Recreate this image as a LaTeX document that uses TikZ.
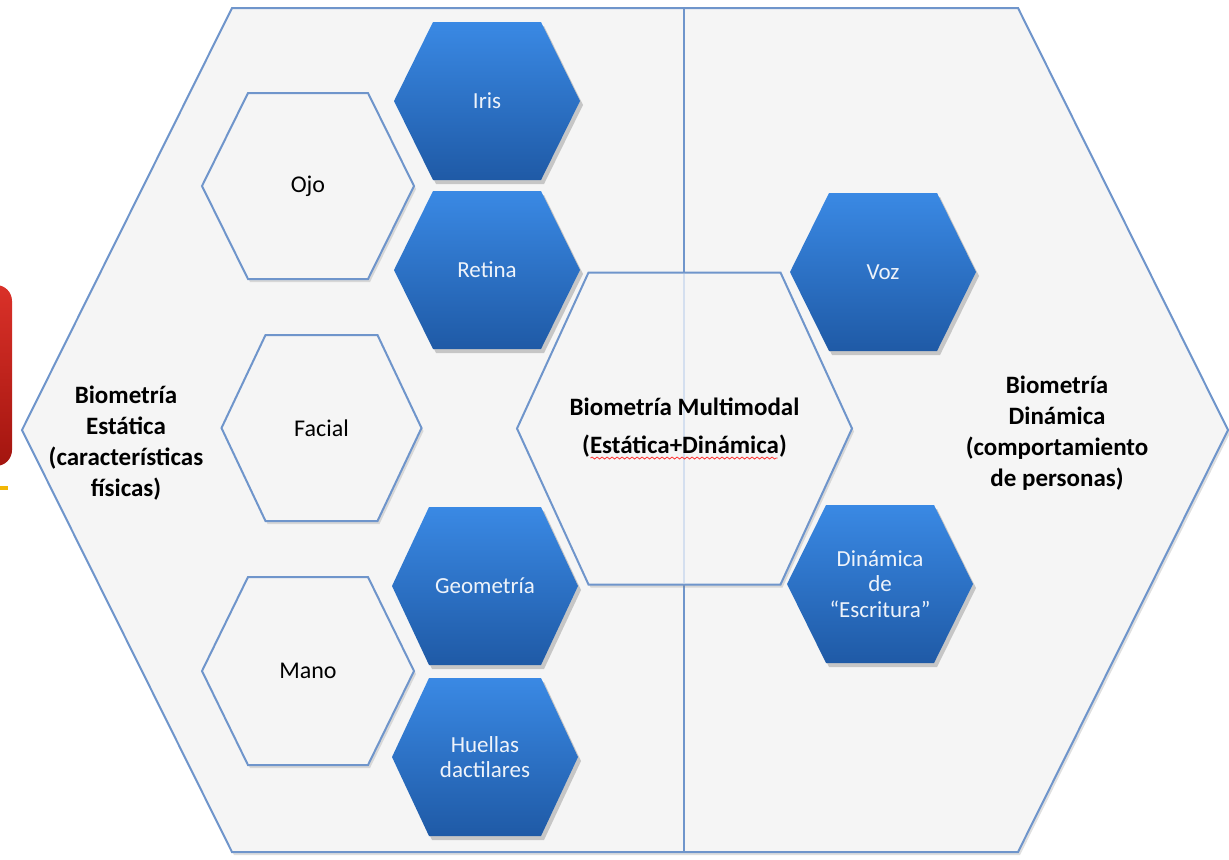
\documentclass[tikz,border=0pt]{standalone}
\usepackage{fontspec}
\setmainfont{Carlito}
\usetikzlibrary{shadows, calc, decorations.pathmorphing}
\definecolor{hexLine}{HTML}{6F95CB}
\definecolor{hexFill}{HTML}{F5F5F5}
\definecolor{hexTop}{HTML}{3A89E4}
\definecolor{hexBot}{HTML}{1F5AA6}
\definecolor{hexText}{HTML}{EEF3FA}
\definecolor{redTop}{HTML}{DA3129}
\definecolor{redBot}{HTML}{A3150F}
\definecolor{tabYellow}{HTML}{F2B705}
% hexagon: style, centre, half width, half top edge, half height
\newcommand{\hexpath}[5]{%
	\path[#1, shift={(#2)}] (-#3,0) -- (-#4,-#5) -- (#4,-#5) -- (#3,0) -- (#4,#5) -- (-#4,#5) -- cycle;}
\tikzset{
	outerhex/.style={fill=hexFill, draw=hexLine, line width=1pt, drop shadow={shadow xshift=1pt, shadow yshift=-1.5pt, opacity=0.25}},
	whitehex/.style={fill=hexFill, draw=hexLine, line width=1pt, drop shadow={shadow xshift=1pt, shadow yshift=-1.5pt, opacity=0.25}},
	bluehex/.style={top color=hexTop, bottom color=hexBot, drop shadow={shadow xshift=1.5pt, shadow yshift=-2pt, opacity=0.4}},
	item/.style={font=\fontsize{11.5}{12.8}\selectfont, text=hexText, align=center},
	darkitem/.style={font=\fontsize{12}{14}\selectfont, text=black, align=center},
	grouptext/.style={font=\bfseries\fontsize{12.5}{15.5}\selectfont, text=black, align=center},
	spell/.style={draw=red!80, line width=0.4pt, decorate, decoration={snake, amplitude=0.5pt, segment length=2.5pt}}
}
\begin{document}
\begin{tikzpicture}[x=0.5pt, y=-0.5pt]
	\useasboundingbox (0,0) rectangle (1229,859);
	
	% cut-off tab at the left
	\shade[top color=redTop, bottom color=redBot, rounded corners=8pt] (-40,285) rectangle (12,466);
	\draw[tabYellow, line width=2pt] (-5,488) -- (8,488);
	
	% big hexagon split in two halves
	\hexpath{outerhex}{625,430}{603}{393}{422}
	\coordinate (divtop) at (684,8);
	\coordinate (divbot) at (684,851);
	\draw[hexLine, line width=0.6pt] (divtop) -- (divbot);
	
	\node (estatica) [grouptext] at (126,443) {Biometría\\Estática\\(características\\físicas)};
	\node (dinamica) [grouptext] at (1057,433) {Biometría\\Dinámica\\(comportamiento\\de personas)};
	
	% static side
	\hexpath{whitehex}{308,186}{106}{60}{93}
	\node (ojo) [darkitem] at (308,186) {Ojo};
	\hexpath{whitehex}{321.5,428}{100}{56}{93}
	\node (facial) [darkitem] at (321.5,428) {Facial};
	\hexpath{whitehex}{308,671}{106}{60}{94}
	\node (mano) [darkitem] at (308,671) {Mano};
	
	\hexpath{bluehex}{487,101}{93}{54}{79}
	\node (iris) [item] at (487,101) {Iris};
	\hexpath{bluehex}{487,270}{93}{54}{79}
	\node (retina) [item] at (487,270) {Retina};
	\hexpath{bluehex}{485,586}{93}{56}{79}
	\node (geometria) [item] at (485,586) {Geometría};
	\hexpath{bluehex}{485,757}{93}{56}{79}
	\node (huellas) [item] at (485,757) {Huellas\\dactilares};
	
	% dynamic side
	\hexpath{bluehex}{883,272}{93}{54}{79}
	\node (voz) [item] at (883,272) {Voz};
	\hexpath{bluehex}{880,584}{93}{54}{79}
	\node (escritura) [item] at (880,584) {Dinámica\\de\\“Escritura”};
	
	% multimodal in the middle
	\hexpath{whitehex}{684.5,428.5}{167.5}{96}{156}
	\coordinate (multitop) at (684,274);
	\coordinate (multibot) at (684,583);
	\draw[hexLine!30, line width=0.6pt] (multitop) -- (multibot);
	\node (multi) [grouptext, font=\bfseries\fontsize{12.5}{19}\selectfont] at (684.5,428) {Biometría Multimodal\\(Estática+Dinámica)};
	\draw[spell] ($(multi)+(-94,30)$) -- ($(multi)+(93,30)$);
\end{tikzpicture}
\end{document}
